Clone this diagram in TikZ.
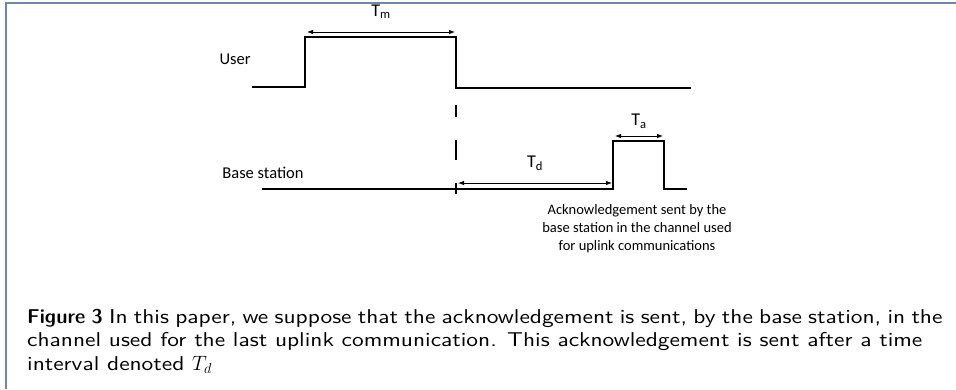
\documentclass[tikz,border=0pt]{standalone}
\usepackage{fontspec}
\newfontfamily\calib{Carlito}
\newfontfamily\capfont{lmsans10-regular.otf}[BoldFont=lmsansdemicond10-regular.otf,FakeStretch=1.17]
\usetikzlibrary{arrows.meta}
\definecolor{framec}{RGB}{112,136,168}

\begin{document}
\begin{tikzpicture}[x=1pt,y=-1pt,
	sig/.style={line width=1.5pt},
	dim/.style={line width=0.8pt,{Latex[length=6pt,width=4.5pt]}-{Latex[length=6pt,width=4.5pt]}},
	lbl/.style={font=\calib\fontsize{16.5}{18}\selectfont,inner sep=0pt},
	tlbl/.style={font=\calib\fontsize{18}{18}\selectfont,inner sep=0pt}]
	\useasboundingbox (0,0) rectangle (956,389);
	\draw[line width=1.5pt,framec] (6,389) -- (6,3) -- (956,3);

	% user pulse
	\coordinate (u0) at (252,87); \coordinate (u1) at (305,87); \coordinate (u2) at (305,37);
	\coordinate (u3) at (456,37); \coordinate (u4) at (456,88); \coordinate (u5) at (691,88);
	\draw[sig] (u0) -- (u1) -- (u2) -- (u3) -- (u4) -- (u5);
	\node[lbl] (user) at (235,59) {User};
	\draw[dim] (307,32) -- (455,32) node[tlbl,midway,above=13pt] (tm) {T\textsubscript{m}};

	% base station pulse
	\coordinate (b0) at (262,189); \coordinate (b1) at (613,189); \coordinate (b2) at (613,141);
	\coordinate (b3) at (664,141); \coordinate (b4) at (664,189); \coordinate (b5) at (687,189);
	\draw[sig] (b0) -- (b1) -- (b2) -- (b3) -- (b4) -- (b5);
	\node[lbl] (bs) at (263,173) {Base station};
	\draw[sig,dash pattern=on 20pt off 23pt,dash phase=8pt] (456,105) -- (456,194);
	\draw[dim] (458,183) -- (612,183) node[tlbl,midway,above=12pt] (td) {T\textsubscript{d}};
	\draw[dim] (615,136) -- (663,136) node[tlbl,midway,above=7pt] (ta) {T\textsubscript{a}};
	\node[lbl,font=\calib\fontsize{14.5}{18}\selectfont,align=center] (ack) at (637,229)
		{Acknowledgement sent by the\\ base station in the channel used\\ for uplink communications};

	\node[anchor=base west,inner sep=0pt,align=left,font=\capfont\fontsize{20}{23.5}\selectfont] (cap) at (27,370)
		{\spaceskip=6.3pt\textbf{Figure 3} In this paper, we suppose that the acknowledgement is sent, by the base station, in the\\
		\spaceskip=0pt channel used for the last uplink communication. This acknowledgement is sent after a time\\
		interval denoted $T_d$};
\end{tikzpicture}
\end{document}
